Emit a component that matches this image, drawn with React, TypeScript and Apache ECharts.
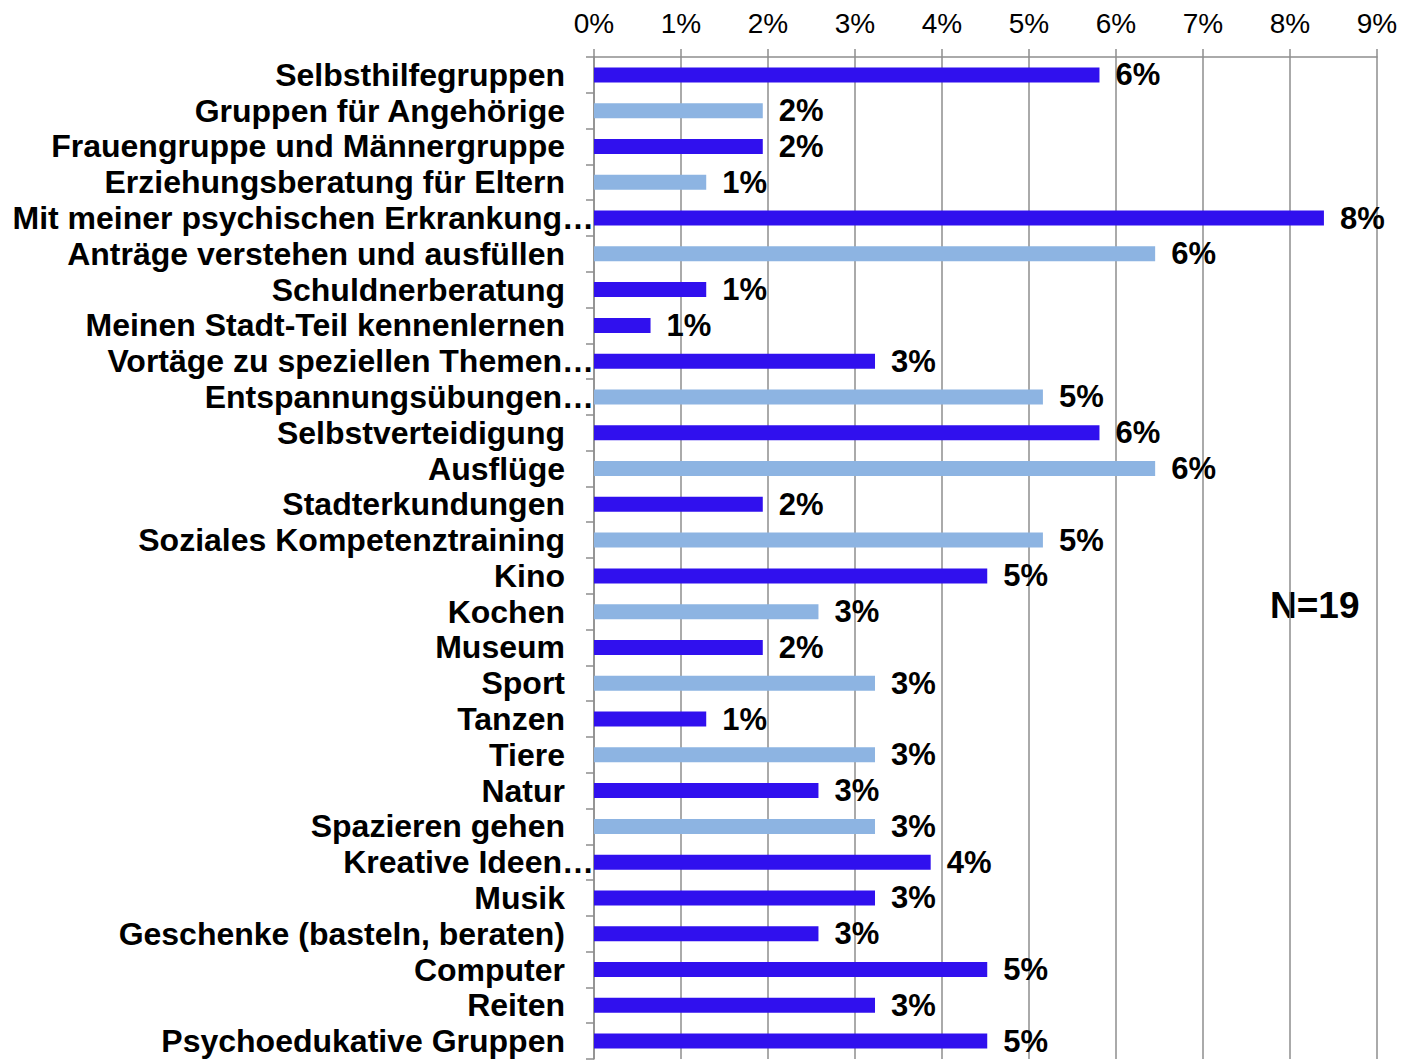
import React, { useEffect, useRef } from "react";
import * as echarts from "echarts";

const categories = [
  "Selbsthilfegruppen",
  "Gruppen für Angehörige",
  "Frauengruppe und Männergruppe",
  "Erziehungsberatung für Eltern",
  "Mit meiner psychischen Erkrankung…",
  "Anträge verstehen und ausfüllen",
  "Schuldnerberatung",
  "Meinen Stadt-Teil kennenlernen",
  "Vortäge zu speziellen Themen…",
  "Entspannungsübungen…",
  "Selbstverteidigung",
  "Ausflüge",
  "Stadterkundungen",
  "Soziales Kompetenztraining",
  "Kino",
  "Kochen",
  "Museum",
  "Sport",
  "Tanzen",
  "Tiere",
  "Natur",
  "Spazieren gehen",
  "Kreative Ideen…",
  "Musik",
  "Geschenke (basteln, beraten)",
  "Computer",
  "Reiten",
  "Psychoedukative Gruppen",
];

const values = [
  5.81, 1.94, 1.94, 1.29, 8.39, 6.45, 1.29, 0.65, 3.23, 5.16, 5.81, 6.45, 1.94,
  5.16, 4.52, 2.58, 1.94, 3.23, 1.29, 3.23, 2.58, 3.23, 3.87, 3.23, 2.58, 4.52,
  3.23, 4.52,
];

const shades = [
  "dark", "light", "dark", "light", "dark", "light", "dark", "dark", "dark",
  "light", "dark", "light", "dark", "light", "dark", "light", "dark", "light",
  "dark", "light", "dark", "light", "dark", "dark", "dark", "dark", "dark", "dark",
];

const xTicks = [0, 1, 2, 3, 4, 5, 6, 7, 8, 9];
const sampleNote = "N=19";

const DARK = "#3010EE";
const LIGHT = "#8DB4E2";
const GRAY = "#8E8E8E";
const FONT = "'Liberation Sans', Arial, sans-serif";

export default function App() {
  const ref = useRef<HTMLDivElement>(null);

  useEffect(() => {
    document.documentElement.style.overflow = "hidden";
    document.body.style.margin = "0";
    document.body.style.overflow = "hidden";
    if (!ref.current) return;
    const chart = echarts.init(ref.current, null, { renderer: "svg" });
    chart.setOption({
      animation: false,
      backgroundColor: "#ffffff",
      grid: { left: 594, right: 37, top: 57, bottom: 21, containLabel: false },
      xAxis: {
        type: "value",
        position: "top",
        min: xTicks[0],
        max: xTicks[xTicks.length - 1],
        interval: 1,
        axisLine: { show: true, lineStyle: { color: GRAY, width: 1.5 } },
        axisTick: { show: true, length: 8, lineStyle: { color: GRAY, width: 1.5 } },
        splitLine: { show: true, lineStyle: { color: GRAY, width: 1.5 } },
        axisLabel: {
          formatter: "{value}%",
          color: "#000",
          fontFamily: FONT,
          fontSize: 28,
          margin: 20,
        },
      },
      yAxis: {
        type: "category",
        inverse: true,
        data: categories,
        axisLine: { show: true, lineStyle: { color: GRAY, width: 1.5 } },
        axisTick: { show: true, length: 8, lineStyle: { color: GRAY, width: 1.5 } },
        axisLabel: {
          interval: 0,
          margin: 0,
          color: "#000",
          fontFamily: FONT,
          fontSize: 32,
          fontWeight: "bold",
          formatter: (v: string) => (v.endsWith("…") ? v : v + "{s|}"),
          rich: { s: { width: 29, fontSize: 32 } },
        },
      },
      series: [
        {
          type: "bar",
          barWidth: 15,
          data: values.map((v, i) => ({
            value: v,
            itemStyle: { color: shades[i] === "dark" ? DARK : LIGHT },
          })),
          label: {
            show: true,
            position: "right",
            distance: 16,
            color: "#000",
            fontFamily: FONT,
            fontSize: 31,
            fontWeight: "bold",
            formatter: (p: any) => Math.round(p.value) + "%",
          },
        },
      ],
      graphic: [
        {
          type: "text",
          left: 1270,
          top: 587,
          style: {
            text: sampleNote,
            fill: "#000",
            font: `bold 37px ${FONT}`,
          },
        },
      ],
    });
    return () => chart.dispose();
  }, []);

  return <div ref={ref} style={{ width: 1414, height: 1080 }} />;
}
